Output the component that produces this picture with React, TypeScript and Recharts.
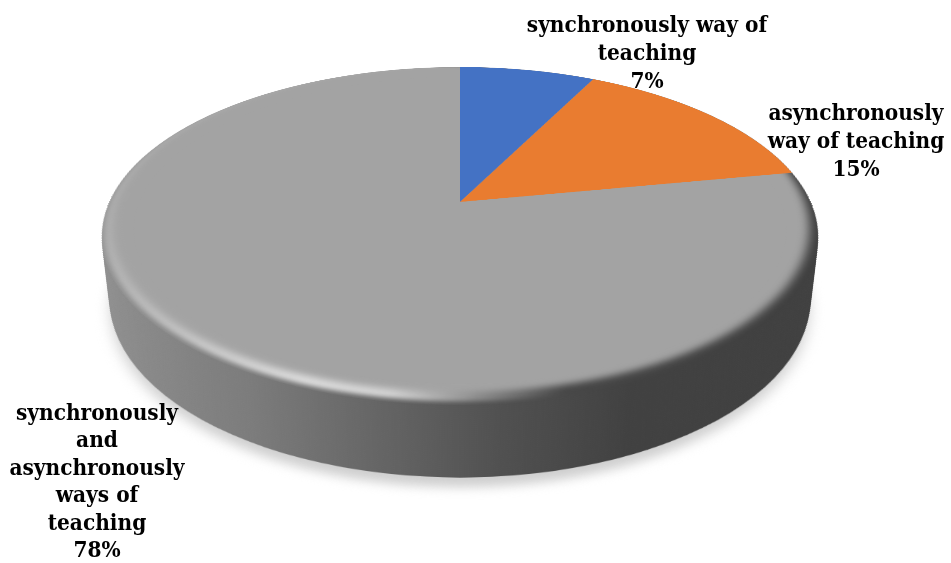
import { PieChart, Pie, Cell } from 'recharts';

const CATEGORIES = [
  'synchronously way of teaching',
  'asynchronously way of teaching',
  'synchronously and asynchronously ways of teaching',
];
const VALUES = [7.4, 14.6, 78];
const COLORS = ['#4472c4', '#e97c30', '#a3a3a3'];

// how each label wraps in the picture
const LABEL_LINES = [
  ['synchronously way of', 'teaching'],
  ['asynchronously', 'way of teaching'],
  ['synchronously', 'and', 'asynchronously', 'ways of', 'teaching'],
];
const LABEL_POS = [
  { center: 647, top: 10, line: 28 },
  { center: 856, top: 98, line: 28 },
  { center: 97, top: 399, line: 27.4 },
];

const data = CATEGORIES.map((name, i) => ({ name, value: VALUES[i] }));

// perspective worked out from the ellipse and the slice apex at (460, 202)
const SIZE = 702;
const RADIUS = 350.7;
const LEFT = 460 - SIZE / 2;
const TOP = 202 - SIZE / 2;
const PLANE = 'perspective(1545px) rotateX(62.47deg)';
const DEPTH = 72;
const STEP = 2;

const layerZ: number[] = [];
for (let z = DEPTH; z > 0; z -= STEP) layerZ.push(z);

function planeStyle(z: number): React.CSSProperties {
  return {
    position: 'absolute',
    left: LEFT,
    top: TOP,
    width: SIZE,
    height: SIZE,
    transformOrigin: '50% 50%',
    transform: `${PLANE} translateZ(${-z}px)`,
  };
}

function Disc({ fills, r = RADIUS, cy = SIZE / 2, defs }: { fills: string[]; r?: number; cy?: number; defs?: React.ReactNode }) {
  return (
    <PieChart width={SIZE} height={SIZE} margin={{ top: 0, right: 0, bottom: 0, left: 0 }}>
      {defs}
      <Pie
        data={data}
        dataKey="value"
        cx={SIZE / 2}
        cy={cy}
        outerRadius={r}
        startAngle={90}
        endAngle={-270}
        stroke="none"
        label={false}
        labelLine={false}
        isAnimationActive={false}
      >
        {data.map((d, i) => (
          <Cell key={d.name} fill={fills[i]} />
        ))}
      </Pie>
    </PieChart>
  );
}

const sideDefs = (
  <defs>
    <linearGradient id="side" gradientUnits="userSpaceOnUse" x1={0} y1={0} x2={SIZE} y2={0}>
      <stop offset="0" stopColor="#929292" />
      <stop offset="0.25" stopColor="#7c7c7c" />
      <stop offset="0.4" stopColor="#666666" />
      <stop offset="0.55" stopColor="#505050" />
      <stop offset="0.7" stopColor="#414141" />
      <stop offset="1" stopColor="#404040" />
    </linearGradient>
  </defs>
);

const bevelDefs = (
  <defs>
    <linearGradient id="bevel" gradientUnits="userSpaceOnUse" x1={0} y1={0} x2={SIZE} y2={0}>
      <stop offset="0" stopColor="#b4b4b4" />
      <stop offset="0.15" stopColor="#c4c4c4" />
      <stop offset="0.32" stopColor="#dedede" />
      <stop offset="0.42" stopColor="#d4d4d4" />
      <stop offset="0.52" stopColor="#8c8c8c" />
      <stop offset="0.62" stopColor="#484848" />
      <stop offset="1" stopColor="#404040" />
    </linearGradient>
  </defs>
);

const layerBox: React.CSSProperties = { position: 'absolute', left: 0, top: 0 };

export default function App() {
  const sideFills = VALUES.map(() => 'url(#side)');
  const bevelFills = VALUES.map(() => 'url(#bevel)');
  const faceFills = VALUES.map(() => COLORS[2]);

  return (
    <div
      style={{
        position: 'absolute',
        left: 0,
        top: 0,
        width: 951,
        height: 563,
        overflow: 'hidden',
        background: '#fff',
      }}
    >
      {/* soft shadow under the disc */}
      <div style={{ ...planeStyle(DEPTH + 10), filter: 'blur(7px)' }}>
        <Disc fills={VALUES.map(() => '#cfcfcf')} />
      </div>

      {/* side wall, stacked discs */}
      {layerZ.map((z) => (
        <div key={z} style={planeStyle(z)}>
          <Disc fills={sideFills} defs={sideDefs} />
        </div>
      ))}

      {/* top face with rim */}
      <div style={{ ...planeStyle(0), borderRadius: '50%', overflow: 'hidden' }}>
        <div style={layerBox}>
          <Disc fills={sideFills} defs={sideDefs} />
        </div>
        <div style={{ ...layerBox, filter: 'blur(3px)' }}>
          <Disc fills={bevelFills} defs={bevelDefs} r={RADIUS - 2} cy={SIZE / 2 - 3} />
        </div>
        <div style={{ ...layerBox, filter: 'blur(5px)' }}>
          <Disc fills={faceFills} r={RADIUS - 6} cy={SIZE / 2 - 12} />
        </div>
        <div style={layerBox}>
          <PieChart width={SIZE} height={SIZE} margin={{ top: 0, right: 0, bottom: 0, left: 0 }}>
            <Pie
              data={data}
              dataKey="value"
              cx={SIZE / 2}
              cy={SIZE / 2}
              outerRadius={RADIUS}
              startAngle={90}
              endAngle={-270}
              stroke="none"
              isAnimationActive={false}
            >
              {data.map((d, i) => (
                <Cell key={d.name} fill={i === 2 ? 'transparent' : COLORS[i]} />
              ))}
            </Pie>
            <Pie
              data={data}
              dataKey="value"
              cx={SIZE / 2}
              cy={SIZE / 2}
              outerRadius={RADIUS - 30}
              startAngle={90}
              endAngle={-270}
              stroke="none"
              isAnimationActive={false}
            >
              {data.map((d, i) => (
                <Cell key={d.name} fill={i === 2 ? COLORS[2] : 'transparent'} />
              ))}
            </Pie>
          </PieChart>
        </div>
      </div>

      {LABEL_LINES.map((lines, i) => (
        <div
          key={CATEGORIES[i]}
          style={{
            position: 'absolute',
            left: LABEL_POS[i].center - 150,
            top: LABEL_POS[i].top,
            width: 300,
            textAlign: 'center',
            fontFamily: '"DejaVu Serif Condensed", "DejaVu Serif", serif',
            fontWeight: 700,
            fontSize: 22.4,
            lineHeight: `${LABEL_POS[i].line}px`,
            color: '#000',
          }}
        >
          {lines.map((line) => (
            <div key={line}>{line}</div>
          ))}
          <div>{Math.round(VALUES[i])}%</div>
        </div>
      ))}
    </div>
  );
}
